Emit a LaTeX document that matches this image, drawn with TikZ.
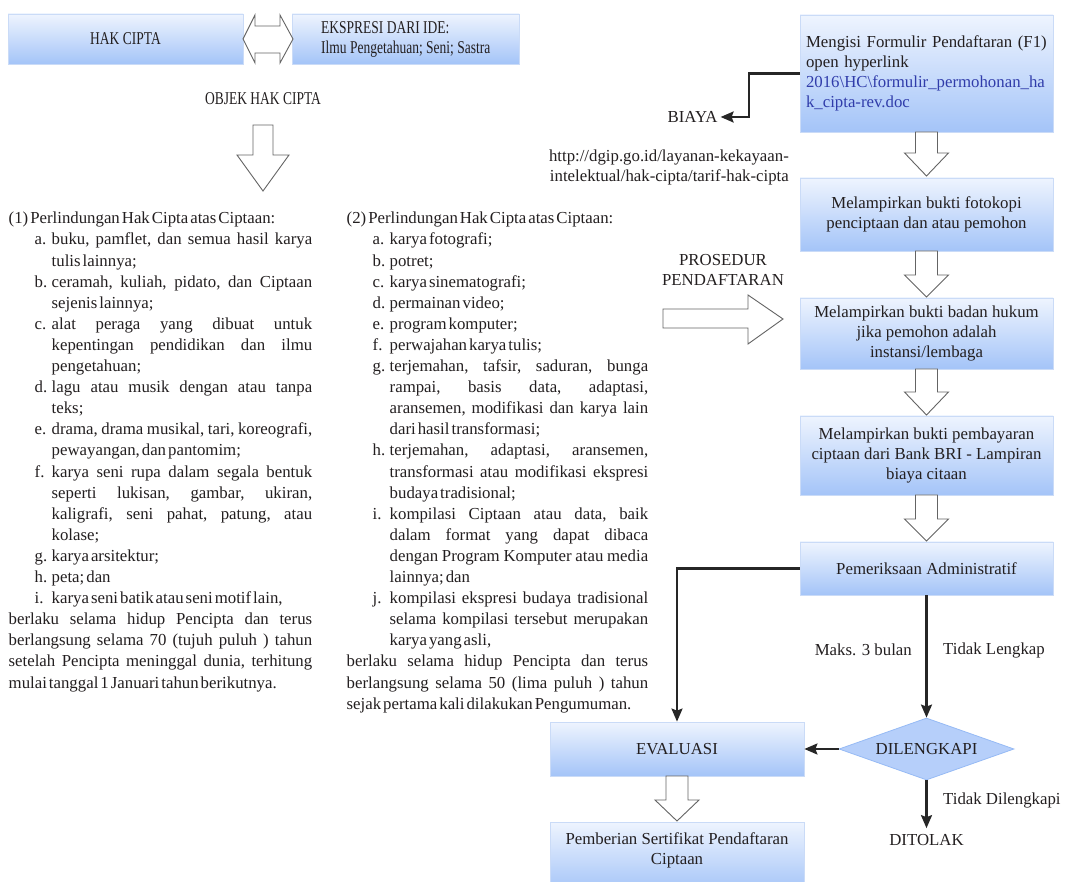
\documentclass[tikz,border=0pt]{standalone}
\usepackage{fontspec}
\setmainfont{Liberation Serif}
\newfontfamily\condf[FakeStretch=0.75]{Liberation Serif}
\usetikzlibrary{arrows.meta,shapes.geometric,shadings}
\definecolor{boxtop}{RGB}{238,244,254}
\definecolor{boxbot}{RGB}{164,196,248}
\definecolor{boxline}{RGB}{202,219,247}
\definecolor{diafill}{RGB}{182,207,250}
\definecolor{dialine}{RGB}{150,186,245}
\definecolor{txt}{RGB}{35,31,32}
\definecolor{connc}{RGB}{38,38,38}
\definecolor{hollowc}{RGB}{100,100,100}
\definecolor{linkblue}{RGB}{48,60,170}
\newcommand\hollowdown[6]{%
  \draw[hollowarrow] (#1-#5,#2) -- (#1+#5,#2) -- (#1+#5,#3) -- (#1+#6,#3) -- (#1,#4) -- (#1-#6,#3) -- (#1-#5,#3) -- cycle;}
\newcommand\lstsetup{\parindent=0pt\tolerance=10000\hyphenpenalty=10000\frenchspacing
  \spaceskip=0.12em plus 0.6em minus 0.04em\parfillskip=0pt plus 1fil\leftskip=0pt\rightskip=0pt}
\newcommand\lstitem[1]{\par\leftskip=43pt\noindent\llap{\makebox[17pt][l]{#1}}}
\newcommand\lstend{\par\leftskip=0pt\noindent}
\tikzset{
  box/.style={draw=boxline, line width=0.8pt, top color=boxtop, bottom color=boxbot, align=center},
  hollowarrow/.style={draw=hollowc, line width=0.9pt, fill=white, line join=miter},
  connector/.style={draw=connc, line width=2.2pt, -{Stealth[length=13pt,width=11pt,inset=2pt]}},
  condensed/.style={font={\condf\fontsize{18}{19.5}\selectfont}},
  listtext/.style={anchor=north west, inner sep=0pt, align=justify, font=\fontsize{16.8}{21.1}\selectfont},
  plainlabel/.style={inner sep=0pt}
}
\begin{document}
\begin{tikzpicture}[x=1pt,y=-1pt,font=\fontsize{16.8}{20}\selectfont,text=txt]
\useasboundingbox (0,0) rectangle (1072,882);
\fill[white] (0,0) rectangle (1072,882);

% top left
\node[box, condensed, minimum width=235, minimum height=50] (hak) at (125.5,39) {HAK CIPTA};
\node[box, minimum width=227, minimum height=50] (eks) at (405.5,39) {};
\node[condensed, anchor=west, align=left, inner sep=0pt] (ekstext) at (321,39.5) {EKSPRESI DARI IDE:\\Ilmu Pengetahuan; Seni; Sastra};
\draw[hollowarrow] (243,39) -- (255,15) -- (255,26) -- (280,26) -- (280,15) -- (293,39) -- (280,63) -- (280,53) -- (255,53) -- (255,63) -- cycle;
\node[condensed] (objek) at (263,99) {OBJEK HAK CIPTA};
\hollowdown{263}{125}{155}{191}{10}{26}

% lists
\node[listtext, text width=303.5pt] (list1) at (8.5,212) {\lstsetup
(1) Perlindungan Hak Cipta atas Ciptaan:
\lstitem{a.}buku, pamflet, dan semua hasil karya\linebreak tulis lainnya;
\lstitem{b.}ceramah, kuliah, pidato, dan Ciptaan\linebreak sejenis lainnya;
\lstitem{c.}alat peraga yang dibuat untuk\linebreak kepentingan pendidikan dan ilmu\linebreak pengetahuan;
\lstitem{d.}lagu atau musik dengan atau tanpa\linebreak teks;
\lstitem{e.}drama, drama musikal, tari, koreografi,\linebreak pewayangan, dan pantomim;
\lstitem{f.}karya seni rupa dalam segala bentuk\linebreak seperti lukisan, gambar, ukiran,\linebreak kaligrafi, seni pahat, patung, atau\linebreak kolase;
\lstitem{g.}karya arsitektur;
\lstitem{h.}peta; dan
\lstitem{i.}karya seni batik atau seni motif lain,
\lstend berlaku selama hidup Pencipta dan terus\linebreak berlangsung selama 70 (tujuh puluh ) tahun\linebreak setelah Pencipta meninggal dunia, terhitung\linebreak mulai tanggal 1 Januari tahun berikutnya.\par};

\node[listtext, text width=301.5pt] (list2) at (346.5,212) {\lstsetup
(2) Perlindungan Hak Cipta atas Ciptaan:
\lstitem{a.}karya fotografi;
\lstitem{b.}potret;
\lstitem{c.}karya sinematografi;
\lstitem{d.}permainan video;
\lstitem{e.}program komputer;
\lstitem{f.}perwajahan karya tulis;
\lstitem{g.}terjemahan, tafsir, saduran, bunga\linebreak rampai, basis data, adaptasi,\linebreak aransemen, modifikasi dan karya lain\linebreak dari hasil transformasi;
\lstitem{h.}terjemahan, adaptasi, aransemen,\linebreak transformasi atau modifikasi ekspresi\linebreak budaya tradisional;
\lstitem{i.}kompilasi Ciptaan atau data, baik\linebreak dalam format yang dapat dibaca\linebreak dengan Program Komputer atau media\linebreak lainnya; dan
\lstitem{j.}kompilasi ekspresi budaya tradisional\linebreak selama kompilasi tersebut merupakan\linebreak karya yang asli,
\lstend berlaku selama hidup Pencipta dan terus\linebreak berlangsung selama 50 (lima puluh ) tahun\linebreak sejak pertama kali dilakukan Pengumuman.\par};

% right column
\node[box, minimum width=253, minimum height=117, text width=241, align=left] (f1) at (926.5,73.5)
  {Mengisi Formulir Pendaftaran (F1)\\open hyperlink\\\textcolor{linkblue}{2016\textbackslash HC\textbackslash formulir\_permohonan\_ha}\\\textcolor{linkblue}{k\_cipta-rev.doc}};
\node[box, minimum width=253, minimum height=73] (f2) at (926.5,214.5) {Melampirkan bukti fotokopi\\penciptaan dan atau pemohon};
\node[box, minimum width=253, minimum height=71] (f3) at (926.5,333.5) {Melampirkan bukti badan hukum\\jika pemohon adalah\\instansi/lembaga};
\node[box, minimum width=253, minimum height=79] (f4) at (926.5,455.5) {Melampirkan bukti pembayaran\\ciptaan dari Bank BRI - Lampiran\\biaya citaan};
\node[box, minimum width=253, minimum height=53] (f5) at (926.5,568.5) {Pemeriksaan Administratif};
\hollowdown{926.5}{132}{153}{176}{11}{22}
\hollowdown{926.5}{251}{275}{297}{11}{22}
\hollowdown{926.5}{369}{392}{415}{11}{22}
\hollowdown{926.5}{495}{519}{541}{11}{22}

\node[plainlabel] (biaya) at (692.5,117) {BIAYA};
\draw[connector] (f1.west) -- ++(-51,0) |- ([xshift=3pt]biaya.east);
\node[plainlabel, align=right, anchor=east] (url) at (789,167.5) {http://dgip.go.id/layanan-kekayaan-\\intelektual/hak-cipta/tarif-hak-cipta};

\node[plainlabel, align=center] (pros) at (723,269.5) {PROSEDUR\\PENDAFTARAN};
\draw[hollowarrow] (663,309) -- (748,309) -- (748,295) -- (783,319) -- (748,344) -- (748,328) -- (663,328) -- cycle;

% bottom part
\node[box, minimum width=254, minimum height=54] (eval) at (677,749) {EVALUASI};
\node[diamond, aspect=2.8, minimum width=175, minimum height=62, inner sep=0pt, fill=diafill, draw=dialine, line width=0.8pt] (dil) at (926.5,749) {DILENGKAPI};
\draw[connector] (f5.west) -| (eval.north);
\draw[connector] (f5.south) -- (dil.north);
\draw[connector] (dil.west) -- (eval.east);
\node[plainlabel] (ditolak) at (926.5,840) {DITOLAK};
\draw[connector, shorten >=6pt] (dil.south) -- (ditolak.north);
\node[plainlabel, anchor=east] (maks) at (912,650) {Maks. 3 bulan};
\node[plainlabel, anchor=west] (tlengkap) at (943,650) {Tidak Lengkap};
\node[plainlabel, anchor=west] (tdl) at (943,800) {Tidak Dilengkapi};

\hollowdown{677}{776}{800}{821}{11}{22}
\node[box, minimum width=254, minimum height=70] (cert) at (677,857) {};
\node[plainlabel, align=center] (certtext) at (677,850) {Pemberian Sertifikat Pendaftaran\\Ciptaan};
\end{tikzpicture}
\end{document}
